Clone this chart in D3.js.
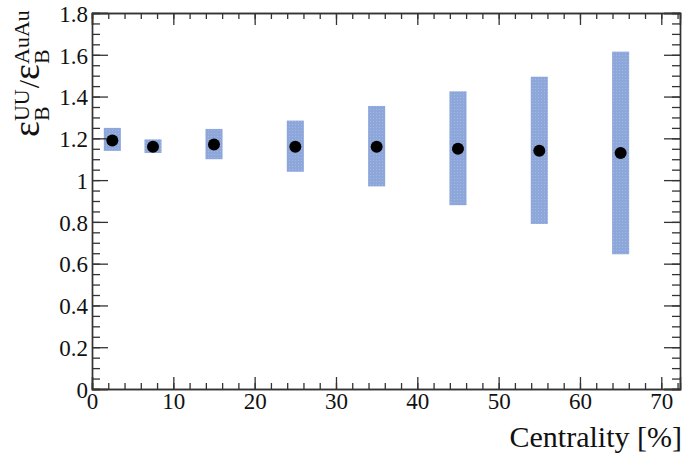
<!DOCTYPE html>
<html>
<head>
<meta charset="utf-8">
<script src="https://cdn.jsdelivr.net/npm/d3@7"></script>
<style>
  body { margin: 0; background: #fff; }
  svg text { font-family: "Liberation Serif", "DejaVu Serif", serif !important; fill: #111; }
</style>
</head>
<body>
<div id="chart"></div>
<script>
// centrality bin centres [%], ratio values, systematic band (low/high)
const centrality = [2.5, 7.5, 15, 25, 35, 45, 55, 65];
const ratio      = [1.19, 1.16, 1.17, 1.16, 1.16, 1.15, 1.14, 1.13];
const sysLow     = [1.14, 1.13, 1.10, 1.04, 0.97, 0.88, 0.79, 0.645];
const sysHigh    = [1.25, 1.195, 1.245, 1.285, 1.355, 1.425, 1.495, 1.615];
const xTicks = [0, 10, 20, 30, 40, 50, 60, 70];
const yTicks = [0, 0.2, 0.4, 0.6, 0.8, 1, 1.2, 1.4, 1.6, 1.8];

const W = 685, H = 462;
const frame = { left: 92, right: 680, top: 13, bottom: 389 };

const svg = d3.select("#chart").append("svg")
  .attr("width", W).attr("height", H);

const x = d3.scaleLinear().domain([0, 72.3]).range([frame.left, frame.right]);
const y = d3.scaleLinear().domain([0, 1.8]).range([frame.bottom, frame.top]);

// dotted fill like the original band
const defs = svg.append("defs");
const pat = defs.append("pattern").attr("id", "dots")
  .attr("width", 3).attr("height", 3).attr("patternUnits", "userSpaceOnUse");
pat.append("rect").attr("width", 3).attr("height", 3).attr("fill", "#8ea7db");
pat.append("rect").attr("x", 1).attr("y", 1).attr("width", 1).attr("height", 1).attr("fill", "#a3b7e2");

// systematic boxes, +-1 unit wide
svg.selectAll("rect.sys").data(centrality).enter().append("rect")
  .attr("class", "sys")
  .attr("x", d => x(d - 1.05))
  .attr("width", d => x(d + 1.05) - x(d - 1.05))
  .attr("y", (d, i) => y(sysHigh[i]))
  .attr("height", (d, i) => y(sysLow[i]) - y(sysHigh[i]))
  .attr("fill", "url(#dots)");

// axes (ticks pointing inward, ROOT style)
function style(g) {
  g.attr("font-family", null);
  g.select(".domain").attr("stroke", "#333").attr("stroke-width", 1.4);
  g.selectAll(".tick line").attr("stroke", "#333").attr("stroke-width", 1.3);
  g.selectAll("text").attr("font-size", 23).attr("fill", "#111")
    .style("font-family", "'Liberation Serif', serif");
}
const yMinor = d3.range(0, 1.8001, 0.05);
const xMinor = d3.range(0, 72.3, 2);

// left
svg.append("g").attr("transform", `translate(${frame.left},0)`)
  .call(d3.axisLeft(y).tickValues(yMinor).tickSize(-8).tickFormat(""))
  .call(style);
svg.append("g").attr("transform", `translate(${frame.left},0)`)
  .call(d3.axisLeft(y).tickValues(yTicks).tickSize(-16).tickPadding(4).tickFormat(d3.format("")))
  .call(style)
  .call(g => g.selectAll("text").attr("dy", "0.36em"));
// right
svg.append("g").attr("transform", `translate(${frame.right},0)`)
  .call(d3.axisRight(y).tickValues(yMinor).tickSize(-8).tickFormat(""))
  .call(style);
svg.append("g").attr("transform", `translate(${frame.right},0)`)
  .call(d3.axisRight(y).tickValues(yTicks).tickSize(-16).tickFormat(""))
  .call(style);
// bottom
svg.append("g").attr("transform", `translate(0,${frame.bottom})`)
  .call(d3.axisBottom(x).tickValues(xMinor).tickSize(-6).tickFormat(""))
  .call(style);
svg.append("g").attr("transform", `translate(0,${frame.bottom})`)
  .call(d3.axisBottom(x).tickValues(xTicks).tickSize(-12).tickPadding(4).tickFormat(d3.format("")))
  .call(style);
// top
svg.append("g").attr("transform", `translate(0,${frame.top})`)
  .call(d3.axisTop(x).tickValues(xMinor).tickSize(-6).tickFormat(""))
  .call(style);
svg.append("g").attr("transform", `translate(0,${frame.top})`)
  .call(d3.axisTop(x).tickValues(xTicks).tickSize(-12).tickFormat(""))
  .call(style);

// points
svg.selectAll("circle.pt").data(centrality).enter().append("circle")
  .attr("class", "pt")
  .attr("cx", d => x(d))
  .attr("cy", (d, i) => y(ratio[i]))
  .attr("r", 6)
  .attr("fill", "#000");

// x title
svg.append("text")
  .attr("x", frame.right + 2).attr("y", 447)
  .attr("text-anchor", "end")
  .attr("font-size", 30)
  .text("Centrality [%]");

// y title: ε_B^UU / ε_B^AuAu, rotated
const yt = svg.append("g").attr("transform", "translate(39,137) rotate(-90)");
let cx = 0;
function piece(txt, size, dy) {
  const t = yt.append("text").attr("x", cx).attr("y", dy).attr("font-size", size).text(txt);
  return t.node().getComputedTextLength();
}
function stacked(sup, sub) {
  const a = piece(sup, 22, -10);
  const b = piece(sub, 22, 10);
  cx += Math.max(a, b) + 1;
}
cx += piece("ε", 38, 0);
stacked("UU", "B");
cx += piece("/", 30, 0);
cx += piece("ε", 38, 0);
stacked("AuAu", "B");
</script>
</body>
</html>
